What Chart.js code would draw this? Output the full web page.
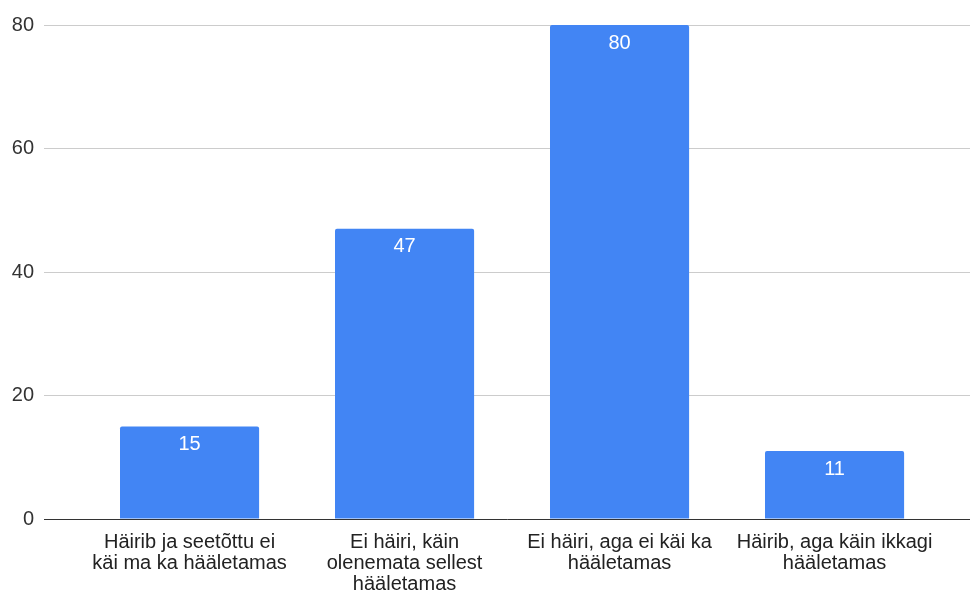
<!DOCTYPE html>
<html>
<head>
<meta charset="utf-8">
<script src="https://cdn.jsdelivr.net/npm/chart.js@4"></script>
<style>
  html, body { margin: 0; padding: 0; background: #fff; }
  #wrap { width: 970px; height: 590px; position: relative; }
</style>
</head>
<body>
<div id="wrap"><canvas id="grafiek"></canvas></div>
<script>
// Kategooriad (murtud ridadeks nagu pildil)
const categories = [
    ['Häirib ja seetõttu ei', 'käi ma ka hääletamas'],
    ['Ei häiri, käin', 'olenemata sellest', 'hääletamas'],
    ['Ei häiri, aga ei käi ka', 'hääletamas'],
    ['Häirib, aga käin ikkagi', 'hääletamas']
];
// Väärtused
const values = [15, 47, 80, 11];
// Y-telje jaotised
const yTicks = [0, 20, 40, 60, 80];

const barColor = '#4285f4';
const labelFont = 'Arial, "Liberation Sans", sans-serif';

// Väärtuste sildid tulpade sees
const valueLabels = {
    id: 'valueLabels',
    afterDatasetsDraw(chart) {
        const ctx = chart.ctx;
        const meta = chart.getDatasetMeta(0);
        ctx.save();
        ctx.fillStyle = '#ffffff';
        ctx.font = '20px ' + labelFont;
        ctx.textAlign = 'center';
        ctx.textBaseline = 'middle';
        meta.data.forEach((bar, i) => {
            ctx.fillText(String(values[i]), bar.x, bar.y + 18);
        });
        ctx.restore();
    }
};

const ctx = document.getElementById('grafiek').getContext('2d');
new Chart(ctx, {
    type: 'bar',
    data: {
        datasets: [{
            data: values.map((v, i) => ({ x: i, y: v })),
            backgroundColor: barColor,
            borderRadius: 2,
            barPercentage: 0.647,
            categoryPercentage: 1
        }]
    },
    options: {
        responsive: true,
        maintainAspectRatio: false,
        animation: false,
        layout: { padding: { top: 25, right: 0, left: 0, bottom: 0 } },
        plugins: {
            legend: { display: false },
            tooltip: { enabled: false }
        },
        scales: {
            x: {
                type: 'linear',
                offset: false,
                min: -0.677,
                max: 3.63,
                grid: { display: false, drawTicks: false },
                border: { display: true, color: '#333333', width: 1 },
                afterBuildTicks: scale => {
                    scale.ticks = categories.map((_, i) => ({ value: i }));
                },
                afterFit: scale => { scale.height = 71; },
                ticks: {
                    autoSkip: false,
                    maxRotation: 0,
                    padding: 13,
                    color: '#222222',
                    font: { family: labelFont, size: 20, lineHeight: '21px' },
                    callback: value => categories[value]
                }
            },
            y: {
                min: 0,
                max: 80,
                afterBuildTicks: scale => {
                    scale.ticks = yTicks.map(v => ({ value: v }));
                },
                afterFit: scale => { scale.width = 44; },
                grid: { color: '#cccccc', drawTicks: false },
                border: { display: false },
                ticks: {
                    padding: 10,
                    color: '#333333',
                    font: { family: labelFont, size: 20 }
                }
            }
        }
    },
    plugins: [valueLabels]
});
</script>
</body>
</html>
